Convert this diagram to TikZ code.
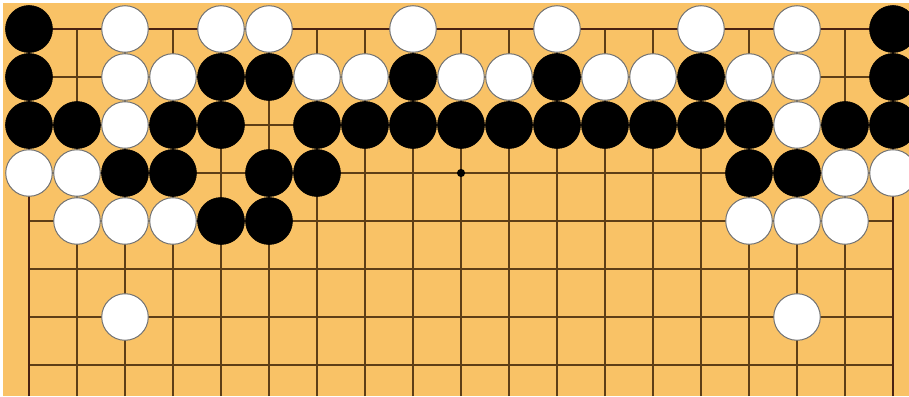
\documentclass[tikz,border=0pt]{standalone}
\usepackage{tikz}
\usetikzlibrary{positioning}
\definecolor{boardwood}{HTML}{F9C266}
\definecolor{gridbrown}{HTML}{5E3E16}
\definecolor{edgebrown}{HTML}{4A2212}
\tikzstyle{gridline} = [draw=gridbrown, line width=0.75pt]
\tikzstyle{edgeline} = [draw=edgebrown, line width=1.6pt]
\tikzstyle{blackstone} = [circle, minimum size=0.98cm, inner sep=0pt, fill=black, draw=black, line width=0.3pt]
\tikzstyle{whitestone} = [circle, minimum size=0.97cm, inner sep=0pt, fill=white, draw=gray!90!black, line width=0.6pt]
\tikzstyle{starpoint} = [circle, minimum size=0.17cm, inner sep=0pt, fill=black]

\begin{document}
\begin{tikzpicture}
    % board, corner point (1,1) at the origin, one line spacing = 1cm
    \useasboundingbox (-0.604,0.604) rectangle (18.333,-7.646);
    \fill[white] (-0.604,0.604) rectangle (18.333,-7.646);
    \fill[boardwood] (-0.54,0.54) rectangle (18.333,-7.646);

    \draw[gridline, step=1] (0,0) grid (18,-7.646);
    \draw[edgeline] (0,-7.646) -- (0,0) -- (18,0) -- (18,-7.646);

    \node (star) [starpoint] at (9,-3) {};

    % black stones (column/row)
    \foreach \c/\r in {1/1, 19/1,
                       1/2, 5/2, 6/2, 9/2, 12/2, 15/2, 19/2,
                       1/3, 2/3, 4/3, 5/3, 7/3, 8/3, 9/3, 10/3, 11/3, 12/3, 13/3, 14/3, 15/3, 16/3, 18/3, 19/3,
                       3/4, 4/4, 6/4, 7/4, 16/4, 17/4,
                       5/5, 6/5}
        \node (b\c-\r) [blackstone] at ({\c-1},{1-\r}) {};

    % white stones (column/row)
    \foreach \c/\r in {3/1, 5/1, 6/1, 9/1, 12/1, 15/1, 17/1,
                       3/2, 4/2, 7/2, 8/2, 10/2, 11/2, 13/2, 14/2, 16/2, 17/2,
                       3/3, 17/3,
                       1/4, 2/4, 18/4, 19/4,
                       2/5, 3/5, 4/5, 16/5, 17/5, 18/5,
                       3/7, 17/7}
        \node (w\c-\r) [whitestone] at ({\c-1},{1-\r}) {};
\end{tikzpicture}
\end{document}
